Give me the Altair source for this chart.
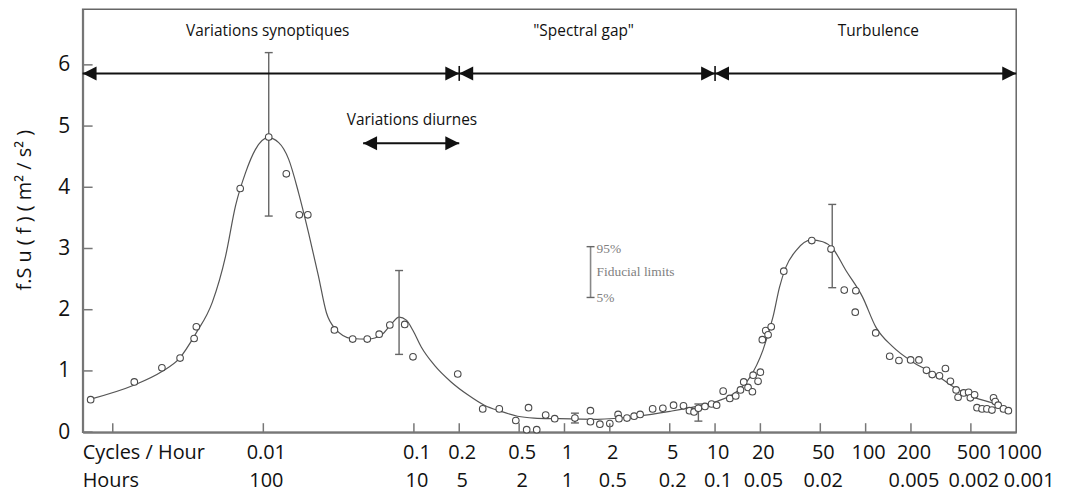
import altair as alt
import pandas as pd

# ---------------- data ----------------
# smooth spectrum curve: frequency (cycles / hour) and f.Su(f) (m2/s2)
cv_f = [0.000713, 0.00139, 0.00212, 0.00276, 0.00356, 0.00458, 0.00562, 0.00654, 0.00762, 0.00887,
        0.01074, 0.01265, 0.01472, 0.01714, 0.01995, 0.02323, 0.02624, 0.02996, 0.03855, 0.04977,
        0.06095, 0.07096, 0.0797, 0.0891, 0.0986, 0.1119, 0.1371, 0.1766, 0.2279, 0.2938,
        0.3784, 0.4875, 0.628, 0.895, 1.648, 3.027, 5.02, 7.54, 10.2, 13.87,
        16.98, 20.8, 24.3, 26.8, 29.6, 34.6, 43.4, 51.9, 60.4, 74.0,
        95.3, 116.7, 150.6, 204, 291, 394, 535, 690, 883]
cv_v = [0.54, 0.77, 0.99, 1.20, 1.61, 2.12, 2.88, 3.70, 4.24, 4.62,
        4.81, 4.73, 4.46, 3.91, 3.26, 2.55, 1.95, 1.69, 1.53, 1.52,
        1.59, 1.77, 1.88, 1.83, 1.66, 1.39, 1.09, 0.82, 0.61, 0.44,
        0.34, 0.26, 0.23, 0.22, 0.21, 0.26, 0.34, 0.42, 0.50, 0.66,
        0.89, 1.34, 1.89, 2.37, 2.70, 2.97, 3.14, 3.11, 3.00, 2.64,
        2.21, 1.72, 1.40, 1.15, 0.94, 0.72, 0.56, 0.48, 0.38]

# measured points
pt_f = [0.000713, 0.00139, 0.00212, 0.00280, 0.00347, 0.00359, 0.00702, 0.01086, 0.01421, 0.01733,
        0.01974, 0.02965, 0.0392, 0.0490, 0.0588, 0.0692, 0.0869, 0.0986, 0.1955, 0.2864,
        0.369, 0.475, 0.561, 0.577, 0.654, 0.750, 0.861, 1.173, 1.487, 1.487,
        1.718, 2.00, 2.27, 2.30, 2.60, 2.90, 3.18, 3.85, 4.50, 5.30,
        6.17, 6.76, 7.25, 7.75, 8.57, 9.48, 10.24, 11.32, 12.53, 13.72,
        14.75, 15.5, 16.56, 17.70, 17.9, 19.3, 20.0, 20.6, 21.7, 22.5,
        23.6, 28.6, 43.9, 58.9, 72.1, 85.3, 86.1, 116.7, 144.5, 166.4,
        199.0, 225.9, 253.6, 276.9, 309.3, 338.8, 365.6, 398.9, 411, 448,
        483, 496, 529, 549, 593, 639, 690, 707, 726, 759,
        823, 887]
pt_v = [0.53, 0.82, 1.05, 1.21, 1.53, 1.72, 3.98, 4.82, 4.22, 3.55,
        3.55, 1.67, 1.52, 1.52, 1.60, 1.75, 1.76, 1.23, 0.95, 0.38,
        0.38, 0.19, 0.04, 0.40, 0.04, 0.28, 0.22, 0.23, 0.35, 0.17,
        0.13, 0.14, 0.29, 0.22, 0.23, 0.26, 0.29, 0.38, 0.39, 0.44,
        0.43, 0.35, 0.33, 0.39, 0.42, 0.46, 0.44, 0.67, 0.55, 0.59,
        0.69, 0.82, 0.73, 0.66, 0.93, 0.83, 0.98, 1.51, 1.66, 1.59,
        1.72, 2.63, 3.13, 2.99, 2.32, 1.96, 2.31, 1.62, 1.24, 1.17,
        1.18, 1.18, 1.01, 0.94, 0.92, 1.04, 0.83, 0.69, 0.57, 0.64,
        0.65, 0.56, 0.61, 0.40, 0.38, 0.38, 0.36, 0.56, 0.50, 0.44,
        0.38, 0.35]

# error bars (5% / 95% fiducial limits)
eb_f = [0.01086, 0.0797, 1.173, 7.75, 60.0]
eb_lo = [3.53, 1.27, 0.15, 0.18, 2.36]
eb_hi = [6.20, 2.64, 0.31, 0.46, 3.72]

# fiducial-limits key
key_f = [1.49]
key_lo = [2.20]
key_hi = [3.03]
key_text = ["95%", "Fiducial limits", "5%"]
key_v = [2.99, 2.62, 2.19]

# axis ticks and labels
x_min, x_max = 10 ** -3.2, 1000
tick_f = [0.001, 0.01, 0.1, 0.2, 0.5, 1, 2, 5, 10, 20, 50, 100, 200, 500]
lab_f = [0.01, 0.1, 0.2, 0.5, 1, 2, 5, 10, 20, 50, 100, 200, 500, 1000]
cycles_lab = ["0.01", "0.1", "0.2", "0.5", "1", "2", "5", "10", "20", "50", "100", "200", "500", "1000"]
hours_lab = ["100", "10", "5", "2", "1", "0.5", "0.2", "0.1", "0.05", "0.02", "", "0.005", "0.002", "0.001"]
row_titles = ["Cycles / Hour", "Hours"]
y_ticks = [0, 1, 2, 3, 4, 5, 6]
y_title = ["f.S u ( f )  ( m\u00b2 / s\u00b2 )"]

# range arrows and annotations
seg_f1 = [x_min, 0.2, 10, 0.046]
seg_f2 = [0.2, 10, 1000, 0.2]
seg_v = [5.86, 5.86, 5.86, 4.72]
div_f = [0.2, 10]
div_v = [5.86, 5.86]
ann_text = ["Variations synoptiques", "\"Spectral gap\"", "Turbulence", "Variations diurnes"]
ann_f = [0.0107, 1.34, 121.6, 0.0971]
ann_v = [6.55, 6.55, 6.55, 5.10]

# ---------------- chart ----------------
W, H = 938, 425
FONT = "Open Sans"
LFS = 20
xs = alt.Scale(type="log", domain=[x_min, x_max], nice=False)
ys = alt.Scale(domain=[0, 6.91], nice=False, zero=False)
xaxis = alt.Axis(labels=False, ticks=False, grid=False, title=None, domainColor="#777", domainWidth=2)
yaxis = alt.Axis(values=y_ticks, ticks=False, grid=False, title=None, domainColor="#777", domainWidth=2,
                 labelFont=FONT, labelFontSize=21, labelColor="#111", labelPadding=13)

curve_df = pd.DataFrame({"f": cv_f, "v": cv_v})
pt_df = pd.DataFrame({"f": pt_f, "v": pt_v})
eb_df = pd.DataFrame({"f": eb_f, "lo": eb_lo, "hi": eb_hi})
cap_df = pd.DataFrame({"f": eb_f * 2 + key_f * 2, "v": eb_lo + eb_hi + key_lo + key_hi})
key_df = pd.DataFrame({"f": key_f, "lo": key_lo, "hi": key_hi})
key_txt_df = pd.DataFrame({"f": key_f * 3, "v": key_v, "t": key_text})
tick_df = pd.DataFrame({"f": tick_f})
lab_df = pd.DataFrame({"f": lab_f, "c": cycles_lab, "h": hours_lab})
row1_df = pd.DataFrame({"t": row_titles[:1]})
row2_df = pd.DataFrame({"t": row_titles[1:]})
ytick_df = pd.DataFrame({"v": y_ticks})
ytitle_df = pd.DataFrame({"t": y_title})
seg_df = pd.DataFrame({"f1": seg_f1, "f2": seg_f2, "v": seg_v})
div_df = pd.DataFrame({"f": div_f, "v": div_v})
ann_df = pd.DataFrame({"f": ann_f, "v": ann_v, "t": ann_text})

X = lambda fld: alt.X(f"{fld}:Q", scale=xs, axis=xaxis)
Y = lambda fld: alt.Y(f"{fld}:Q", scale=ys, axis=yaxis)

curve = alt.Chart(curve_df).mark_line(color="#555", strokeWidth=1.2, interpolate="monotone").encode(
    x=X("f"), y=Y("v"))

bars = alt.Chart(eb_df).mark_rule(color="#666", strokeWidth=1.4).encode(x=X("f"), y=Y("lo"), y2="hi")
keybar = alt.Chart(key_df).mark_rule(color="#888", strokeWidth=1.6).encode(x=X("f"), y=Y("lo"), y2="hi")
caps = alt.Chart(cap_df).mark_point(shape="stroke", size=64, color="#666", strokeWidth=1.4, opacity=1).encode(
    x=X("f"), y=Y("v"))
key_txt = alt.Chart(key_txt_df).mark_text(font="Liberation Serif", fontSize=13.5, color="#808080",
                                           align="left", baseline="middle", dx=6).encode(
    x=X("f"), y=Y("v"), text="t:N")

points = alt.Chart(pt_df).mark_point(shape="circle", size=44, fill="white", fillOpacity=1,
                                     stroke="#4a4a4a", strokeWidth=1.1, opacity=1).encode(x=X("f"), y=Y("v"))

xticks = alt.Chart(tick_df).mark_rule(color="#777", strokeWidth=1.5).encode(
    x=X("f"), y=alt.value(H), y2=alt.value(H - 9))
yticks = alt.Chart(ytick_df).mark_rule(color="#777", strokeWidth=1.5).encode(
    y=Y("v"), x=alt.value(0), x2=alt.value(10))

ROW1, ROW2 = H + 27, H + 55
lab1 = alt.Chart(lab_df).mark_text(font=FONT, fontSize=LFS, color="#111", baseline="alphabetic", dx=3).encode(
    x=X("f"), y=alt.value(ROW1), text="c:N")
lab2 = alt.Chart(lab_df).transform_filter("datum.f < 1000").mark_text(
    font=FONT, fontSize=LFS, color="#111", baseline="alphabetic", dx=3).encode(
    x=X("f"), y=alt.value(ROW2), text="h:N")
lab2_end = alt.Chart(lab_df).transform_filter("datum.f >= 1000").mark_text(
    font=FONT, fontSize=LFS, color="#111", baseline="alphabetic", dx=13).encode(
    x=X("f"), y=alt.value(ROW2), text="h:N")
rowt1 = alt.Chart(row1_df).mark_text(font=FONT, fontSize=LFS, color="#111", baseline="alphabetic",
                                     align="left").encode(x=alt.value(0), y=alt.value(ROW1), text="t:N")
rowt2 = alt.Chart(row2_df).mark_text(font=FONT, fontSize=LFS, color="#111", baseline="alphabetic",
                                     align="left").encode(x=alt.value(0), y=alt.value(ROW2), text="t:N")
ytitle = alt.Chart(ytitle_df).mark_text(font=FONT, fontSize=20, color="#111", angle=270,
                                        align="center", baseline="middle").encode(
    x=alt.value(-58), y=alt.value(202), text="t:N")

segs = alt.Chart(seg_df).mark_rule(color="#111", strokeWidth=2).encode(x=X("f1"), x2="f2", y=Y("v"))
head_l = alt.Chart(seg_df).mark_point(shape="M0,0L2,-1L2,1Z", size=196, filled=True, color="#111",
                                      opacity=1, strokeWidth=0).encode(x=X("f1"), y=Y("v"))
head_r = alt.Chart(seg_df).mark_point(shape="M0,0L-2,-1L-2,1Z", size=196, filled=True, color="#111",
                                      opacity=1, strokeWidth=0).encode(x=X("f2"), y=Y("v"))
divs = alt.Chart(div_df).mark_point(shape="M0,-1L0,1", size=225, color="#111", strokeWidth=1.6,
                                    opacity=1).encode(x=X("f"), y=Y("v"))
ann = alt.Chart(ann_df).mark_text(font=FONT, fontSize=15.5, color="#111", baseline="middle").encode(
    x=X("f"), y=Y("v"), text="t:N")

chart = alt.layer(
    curve, bars, keybar, caps, points, key_txt, xticks, yticks, lab1, lab2, lab2_end, rowt1, rowt2,
    ytitle, segs, head_l, head_r, divs, ann,
).properties(
    width=W, height=H,
    autosize=alt.AutoSizeParams(type="none"),
    padding={"left": 75, "top": 0, "right": 44, "bottom": 61},
    background="white",
).configure_view(stroke="#666", strokeWidth=1.5)

chart.save("out.html", embed_options={"renderer": "svg", "actions": False})
